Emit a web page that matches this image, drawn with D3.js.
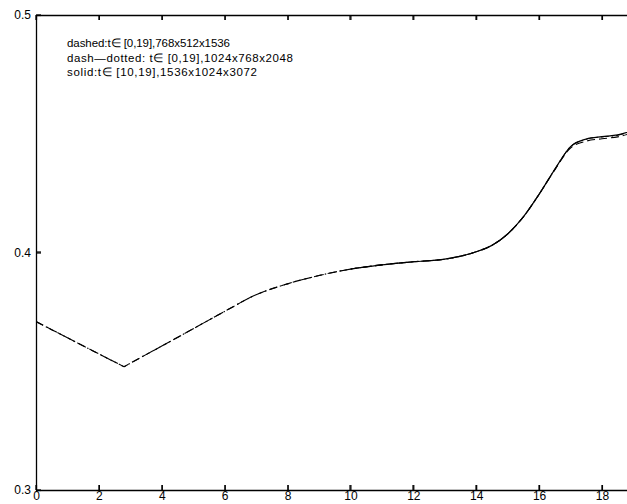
<!DOCTYPE html>
<html>
<head>
<meta charset="utf-8">
<script src="https://cdn.jsdelivr.net/npm/d3@7"></script>
<style>
  html, body { margin: 0; padding: 0; background: #fff; }
  svg { display: block; }
  text { font-family: "Liberation Sans", Arial, Helvetica, sans-serif; fill: #000; }
</style>
</head>
<body>
<svg id="chart" width="627" height="504"></svg>
<script>
// Sample times shared by the three runs
const times = [0, 1, 2, 2.8, 3.5, 4, 5, 6, 7, 8, 9, 10, 11, 12, 13, 14, 14.5, 15, 15.5, 16, 16.5, 17, 17.5, 18, 18.5, 19];

// 768x512x1536 run, t in [0,19]
const dashedValues = [0.3709, 0.3641, 0.3573, 0.3519, 0.3570, 0.3606, 0.3679, 0.3752, 0.3822, 0.3868, 0.3903, 0.3930, 0.3948, 0.3961, 0.3972, 0.4003, 0.4030, 0.4078, 0.4150, 0.4245, 0.4348, 0.4440, 0.4469, 0.4479, 0.4487, 0.4505];

// 1024x768x2048 run, t in [0,19]
const dashDottedValues = [0.3709, 0.3641, 0.3573, 0.3519, 0.3570, 0.3606, 0.3679, 0.3752, 0.3822, 0.3868, 0.3903, 0.3930, 0.3948, 0.3961, 0.3972, 0.4003, 0.4030, 0.4078, 0.4150, 0.4245, 0.4350, 0.4445, 0.4477, 0.4487, 0.4494, 0.4513];

// 1536x1024x3072 run, t in [10,19]
const solidTimes = [10, 11, 12, 13, 14, 14.5, 15, 15.5, 16, 16.5, 17, 17.5, 18, 18.5, 19];
const solidValues = [0.3930, 0.3948, 0.3961, 0.3972, 0.4003, 0.4030, 0.4078, 0.4150, 0.4245, 0.4350, 0.4446, 0.4478, 0.4488, 0.4495, 0.4515];

const xTicks = [0, 2, 4, 6, 8, 10, 12, 14, 16, 18];
const yTicks = [0.3, 0.4, 0.5];
const yTickLabels = ["0.3", "0.4", "0.5"];

const legendLines = [
  "dashed:t\u2208 [0,19],768x512x1536",
  "dash\u2014dotted: t\u2208 [0,19],1024x768x2048",
  "solid:t\u2208 [10,19],1536x1024x3072"
];
// rendered widths of the description lines, px
const legendWidths = [163, 226, 190];

const margin = { left: 36, top: 15 };
const innerW = 597.4, innerH = 475;

const svg = d3.select("#chart");
const g = svg.append("g").attr("transform", `translate(${margin.left},${margin.top})`);

const x = d3.scaleLinear().domain([0, 19]).range([0, innerW]);
const y = d3.scaleLinear().domain([0.3, 0.5]).range([innerH, 0]);

g.append("defs").append("clipPath").attr("id", "plotClip")
  .append("rect").attr("x", 0).attr("y", -1).attr("width", innerW).attr("height", innerH + 2);

// Axes: labels and frame from d3.axis
const tickLen = 5;
const axisBottomG = g.append("g").attr("transform", `translate(0,${innerH})`)
  .call(d3.axisBottom(x).tickValues(xTicks).tickFormat(d3.format("d")).tickSizeInner(-tickLen).tickSizeOuter(0).tickPadding(3));
const axisTopG = g.append("g")
  .call(d3.axisTop(x).tickValues(xTicks).tickFormat("").tickSizeInner(-tickLen).tickSizeOuter(0));
const axisLeftG = g.append("g")
  .call(d3.axisLeft(y).tickValues(yTicks).tickFormat((d, i) => yTickLabels[i]).tickSizeInner(-tickLen).tickSizeOuter(0).tickPadding(5));
const axisRightG = g.append("g").attr("transform", `translate(${innerW},0)`)
  .call(d3.axisRight(y).tickValues(yTicks).tickFormat("").tickSizeInner(-tickLen).tickSizeOuter(0));

[axisBottomG, axisTopG, axisLeftG, axisRightG].forEach(a => {
  a.selectAll("path.domain").attr("stroke", "#000").attr("stroke-width", 1.3);
  a.selectAll(".tick line").attr("stroke", "#000").attr("stroke-width", 1.2);
  a.selectAll(".tick text").attr("font-size", 12).attr("fill", "#000")
    .attr("font-family", "'Liberation Sans', Arial, Helvetica, sans-serif");
});
axisBottomG.selectAll(".tick text").attr("dy", "0.62em");

// Inward tick marks as filled bars so they stay crisp
const tickMarks = g.append("g").attr("fill", "#000");
tickMarks.selectAll("rect.xb").data(xTicks).join("rect").attr("class", "xb")
  .attr("x", d => Math.round(x(d)) - 0.6).attr("y", innerH - tickLen).attr("width", 1.2).attr("height", tickLen);
tickMarks.selectAll("rect.xt").data(xTicks).join("rect").attr("class", "xt")
  .attr("x", d => Math.round(x(d)) - 0.6).attr("y", 0).attr("width", 1.2).attr("height", tickLen);
tickMarks.selectAll("rect.yl").data(yTicks).join("rect").attr("class", "yl")
  .attr("x", 0).attr("y", d => Math.round(y(d)) - 0.6).attr("width", tickLen).attr("height", 1.2);

// Curves: smooth monotone pieces, joined with a sharp corner at the minimum
const line = d3.line()
  .x(d => x(d[0]))
  .y(d => y(d[1]))
  .curve(d3.curveMonotoneX);

function cornerPath(pts) {
  const k = d3.minIndex(pts, d => d[1]);
  if (k <= 0 || k >= pts.length - 1) return line(pts);
  return line(pts.slice(0, k + 1)) + line(pts.slice(k)).replace(/^M/, "L");
}

const plot = g.append("g").attr("clip-path", "url(#plotClip)");

plot.append("path")
  .attr("d", cornerPath(times.map((t, i) => [t, dashedValues[i]])))
  .attr("fill", "none").attr("stroke", "#000").attr("stroke-width", 1.1)
  .attr("stroke-dasharray", "8,4");

plot.append("path")
  .attr("d", cornerPath(times.map((t, i) => [t, dashDottedValues[i]])))
  .attr("fill", "none").attr("stroke", "#000").attr("stroke-width", 1.1)
  .attr("stroke-dasharray", "8,3,1.5,3");

plot.append("path")
  .attr("d", line(solidTimes.map((t, i) => [t, solidValues[i]])))
  .attr("fill", "none").attr("stroke", "#000").attr("stroke-width", 1.2);

// Run descriptions
const legend = g.append("g").attr("transform", "translate(31,32)");
legend.selectAll("text").data(legendLines).join("text")
  .attr("x", 0)
  .attr("y", (d, i) => i * 14.5)
  .attr("font-size", 11.5)
  .attr("textLength", (d, i) => legendWidths[i])
  .attr("lengthAdjust", "spacing")
  .text(d => d);
</script>
</body>
</html>
